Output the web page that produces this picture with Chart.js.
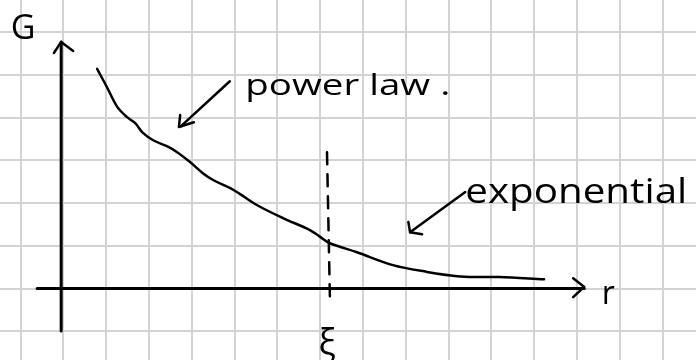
<!DOCTYPE html>
<html>
<head>
<meta charset="utf-8">
<script src="https://cdn.jsdelivr.net/npm/chart.js@4"></script>
<style>
  html, body { margin: 0; padding: 0; background: #fff; }
  #wrap { width: 696px; height: 360px; }
</style>
</head>
<body>
<div id="wrap"><canvas id="sketch" width="696" height="360"></canvas></div>
<script>
// decay of G(r): power law close in, exponential past the correlation length
const curveR = [0.79, 1.02, 1.26, 1.49, 1.68, 1.86, 2.10, 2.42, 2.66, 2.96, 3.26, 3.50, 3.90, 4.13,
                4.53, 5.13, 5.76, 6.00, 6.23, 6.86, 7.70, 8.50, 9.20, 9.74, 10.18, 11.23];
const curveG = [5.14, 4.71, 4.25, 4.01, 3.87, 3.64, 3.47, 3.33, 3.19, 2.96, 2.70, 2.54, 2.35, 2.21,
                1.95, 1.65, 1.37, 1.21, 1.06, 0.85, 0.55, 0.39, 0.29, 0.27, 0.27, 0.22];

// dashed marker at r = xi
const xiR = [6.16, 6.23];
const xiG = [3.19, -0.34];

// axes and their arrowheads
const axisYR = [-0.05, -0.05];
const axisYG = [5.77, -0.99];
const headYR = [-0.22, -0.05, 0.23];
const headYG = [5.51, 5.77, 5.56];
const axisXR = [-0.61, 12.17];
const axisXG = [0.0, 0.0];
const headXR = [11.91, 12.17, 11.91];
const headXG = [0.24, 0.04, -0.20];

// pointer arrows for the two regimes
const powerArrowR = [3.89, 2.75];
const powerArrowG = [4.85, 3.80];
const powerHeadR = [2.73, 2.70, 3.05];
const powerHeadG = [4.06, 3.78, 3.89];
const expArrowR = [9.39, 8.10];
const expArrowG = [2.26, 1.32];
const expHeadR = [8.06, 8.10, 8.38];
const expHeadG = [1.56, 1.32, 1.27];

// hand written labels
const noteText = ['G', 'power law .', 'exponential', 'r', 'ξ'];
const noteR = [-0.94, 4.25, 9.39, 12.73, 6.16];
const noteG = [6.07, 4.53, 2.0, -0.15, -1.32];

// grid cells, one unit each
const gridR = [-1, 14];
const gridG = [-1, 6];

const toPoints = (xs, ys) => xs.map((x, i) => ({ x: x, y: ys[i] }));

function stroke(xs, ys, width, dash) {
    return {
        data: toPoints(xs, ys),
        showLine: true,
        borderColor: '#000',
        borderWidth: width,
        borderDash: dash || [],
        borderCapStyle: 'round',
        borderJoinStyle: 'round',
        pointRadius: 0,
        tension: 0,
        fill: false
    };
}

function integerTicks(from, to) {
    return scale => {
        const ticks = [];
        for (let v = from; v <= to; v++) {
            ticks.push({ value: v });
        }
        scale.ticks = ticks;
    };
}

// span: stretch the text sideways to this many pixels
const noteStyle = [
    { size: 34, align: 'center', base: 'middle' },
    { size: 30, align: 'left', base: 'alphabetic', span: 205 },
    { size: 34, align: 'left', base: 'alphabetic', span: 222 },
    { size: 32, align: 'center', base: 'middle' },
    { size: 36, align: 'center', base: 'middle' }
];

const notesPlugin = {
    id: 'notes',
    afterDatasetsDraw(chart) {
        const ctx = chart.ctx;
        const xs = chart.scales.x;
        const ys = chart.scales.y;
        noteText.forEach((t, i) => {
            const st = noteStyle[i];
            const px = xs.getPixelForValue(noteR[i]);
            const py = ys.getPixelForValue(noteG[i]);
            ctx.save();
            ctx.fillStyle = '#000';
            ctx.font = st.size + 'px "Open Sans", sans-serif';
            ctx.textAlign = st.align;
            ctx.textBaseline = st.base;
            ctx.translate(px, py);
            if (st.span) {
                ctx.scale(st.span / ctx.measureText(t).width, 1);
            }
            ctx.fillText(t, 0, 0);
            ctx.restore();
        });
    }
};

const curve = stroke(curveR, curveG, 2.5);
curve.tension = 0.35;

new Chart(document.getElementById('sketch').getContext('2d'), {
    type: 'scatter',
    data: {
        datasets: [
            curve,
            stroke(xiR, xiG, 2.5, [12, 10]),
            stroke(axisYR, axisYG, 3),
            stroke(headYR, headYG, 2.5),
            stroke(axisXR, axisXG, 3),
            stroke(headXR, headXG, 2.5),
            stroke(powerArrowR, powerArrowG, 2.5),
            stroke(powerHeadR, powerHeadG, 2.5),
            stroke(expArrowR, expArrowG, 2.5),
            stroke(expHeadR, expHeadG, 2.5)
        ]
    },
    options: {
        responsive: false,
        animation: false,
        layout: { padding: 0 },
        plugins: {
            legend: { display: false },
            tooltip: { enabled: false }
        },
        scales: {
            x: {
                type: 'linear',
                min: -1.479,
                max: 14.78,
                afterBuildTicks: integerTicks(gridR[0], gridR[1]),
                ticks: { display: false },
                border: { display: false },
                grid: { color: '#d3d3d3', lineWidth: 2, drawTicks: false }
            },
            y: {
                type: 'linear',
                min: -1.67,
                max: 6.75,
                afterBuildTicks: integerTicks(gridG[0], gridG[1]),
                ticks: { display: false },
                border: { display: false },
                grid: { color: '#d3d3d3', lineWidth: 2, drawTicks: false }
            }
        }
    },
    plugins: [notesPlugin]
});
</script>
</body>
</html>
